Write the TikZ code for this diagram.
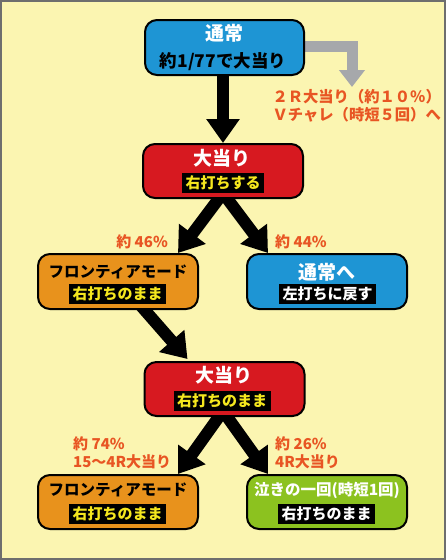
\documentclass[tikz,border=0pt]{standalone}
\usepackage{fontspec}
\setmainfont{Noto Sans CJK JP}
\usetikzlibrary{arrows.meta,calc}
\pgfdeclarelayer{background}
\pgfsetlayers{background,main}
\definecolor{bgyellow}{RGB}{251,245,177}
\definecolor{frame}{RGB}{110,110,110}
\definecolor{boxblue}{RGB}{30,149,212}
\definecolor{boxred}{RGB}{215,25,32}
\definecolor{boxorange}{RGB}{232,146,28}
\definecolor{boxgreen}{RGB}{140,194,31}
\definecolor{labelorange}{RGB}{232,85,35}
\definecolor{baryellow}{RGB}{245,231,30}
\definecolor{arrowgray}{RGB}{166,168,171}
\tikzset{
  box/.style={draw=black, line width=2pt, rounded corners=12pt, minimum width=160pt, minimum height=54pt, inner sep=0pt},
  title/.style={font=\bfseries\fontsize{19}{19}\selectfont, inner sep=0pt},
  subtitle/.style={font=\bfseries\fontsize{17.5}{17.5}\selectfont, inner sep=0pt},
  bar/.style={fill=black, font=\bfseries\fontsize{15}{15}\selectfont, inner xsep=3.5pt, inner ysep=0pt, minimum height=20pt},
  lbl/.style={text=labelorange, font=\bfseries\fontsize{15}{18}\selectfont, inner sep=0pt},
  bigarrow/.style={line width=12pt, black, -{Triangle[length=24pt,width=32pt]}},
}
\begin{document}
\begin{tikzpicture}[x=1pt,y=-1pt]
\useasboundingbox (0,0) rectangle (446,560);
% boxes
\node[box, fill=boxblue, minimum width=159pt, minimum height=55pt] (b1) at (224.5,47.5) {};
\node[title, text=white] (b1t) at (224.5,33) {通常};
\node[subtitle, text=black] (b1s) at (223,62) {約1/77で大当り};

\node[box, fill=boxred] (b2) at (223,171) {};
\node[title, text=white] (b2t) at (222,158) {大当り};
\node[bar, text=baryellow] (b2s) at (223,183) {右打ちする};

\node[box, fill=boxorange, minimum height=55pt] (b3) at (118,281.5) {};
\node[title, text=black, font=\bfseries\fontsize{15.5}{15.5}\selectfont] (b3t) at (118,272) {フロンティアモード};
\node[bar, text=baryellow] (b3s) at (117.5,294) {右打ちのまま};

\node[box, fill=boxblue, minimum height=55pt] (b4) at (327,281.5) {};
\node[title, text=white] (b4t) at (327,272) {通常へ};
\node[bar, text=white] (b4s) at (327.5,294) {左打ちに戻す};

\node[box, fill=boxred] (b5) at (224.5,389) {};
\node[title, text=white] (b5t) at (224,375) {大当り};
\node[bar, text=baryellow] (b5s) at (222,400.5) {右打ちのまま};

\node[box, fill=boxorange] (b6) at (118,502) {};
\node[title, text=black, font=\bfseries\fontsize{15.5}{15.5}\selectfont] (b6t) at (118,490) {フロンティアモード};
\node[bar, text=baryellow] (b6s) at (117.5,513.5) {右打ちのまま};

\node[box, fill=boxgreen] (b7) at (327,502) {};
\node[title, text=white, font=\bfseries\fontsize{15.5}{15.5}\selectfont] (b7t) at (327,490) {泣きの一回(時短1回)};
\node[bar, text=white] (b7s) at (326.5,513.5) {右打ちのまま};

% labels
\node[lbl, anchor=east] (l46) at (168,242) {約 46\%};
\node[lbl, anchor=west] (l44) at (275,242) {約 44\%};
\node[lbl, anchor=west, align=left] (l74) at (73,453) {約 74\%\\15〜4R大当り};
\node[lbl, anchor=west, align=left] (l26) at (275,453) {約 26\%\\4R大当り};
\node[lbl, anchor=east, align=right, font=\bfseries\fontsize{15.3}{18}\selectfont] (l2r) at (441,106) {２Ｒ大当り（約１０％）\\Ｖチャレ（時短５回）へ};

\coordinate (g1) at (352,46.5);
\coordinate (g2) at (352,87);

\begin{pgfonlayer}{background}
\fill[bgyellow] (0,0) rectangle (446,560);
\draw[frame, line width=2pt] (1,1) rectangle (445,559);
% gray arrow
\draw[arrowgray, line width=11pt, -{Triangle[length=17pt,width=25pt]}] ($(b1.east)+(-5,-1)$) -- (g1) -- (g2);
% black arrows
\draw[bigarrow] ($(b1.south)+(-1.5,-5)$) -- ($(b2.north)+(0,0)$);
\draw[bigarrow] ($(b2.south)+(0,-6)$) -- ($(b3.north east)+(-21,0)$);
\draw[bigarrow] ($(b2.south)+(0,-6)$) -- ($(b4.north west)+(22,0)$);
\draw[bigarrow] ($(b3.south)+(17,-11)$) -- ($(b5.north west)+(44,-2)$);
\draw[bigarrow] ($(b5.south)+(-1.5,-6)$) -- ($(b6.north east)+(-21,0)$);
\draw[bigarrow] ($(b5.south)+(-1.5,-6)$) -- ($(b7.north west)+(22,0)$);
\end{pgfonlayer}
\end{tikzpicture}
\end{document}
